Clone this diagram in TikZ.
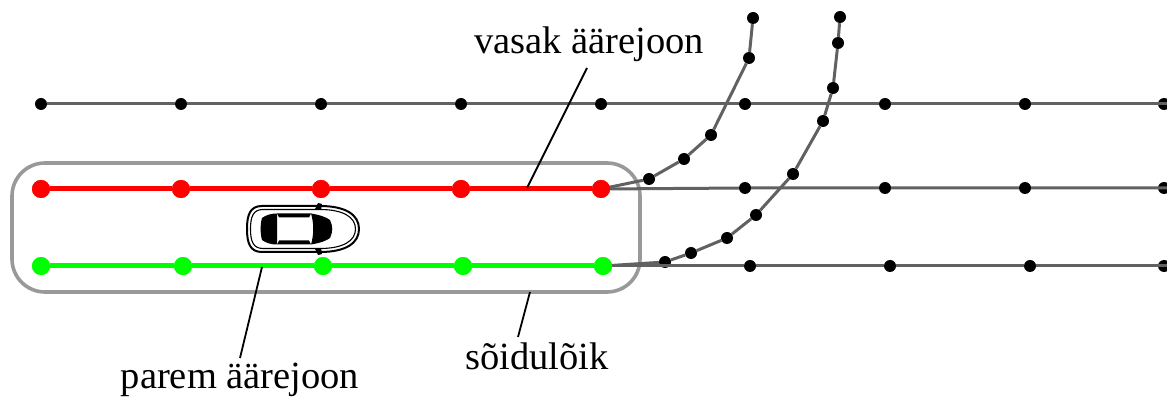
\documentclass[tikz,border=0pt]{standalone}
\usepackage{fontspec}
\setmainfont{Liberation Serif}
\begin{document}
\begin{tikzpicture}[x=1pt,y=-1pt,
  road/.style={draw=black!62,line width=3pt},
  dot/.style={circle,fill=black,inner sep=0pt,minimum size=12pt},
  rdot/.style={circle,fill=red,inner sep=0pt,minimum size=18pt},
  gdot/.style={circle,fill=green,inner sep=0pt,minimum size=18pt},
  redline/.style={draw=red,line width=5pt},
  greenline/.style={draw=green,line width=5pt},
  frame/.style={draw=black!40,line width=3.6pt,rounded corners=33pt,minimum width=628pt,minimum height=129pt,inner sep=0pt},
  label/.style={font=\fontsize{38.5}{42}\selectfont,inner sep=0pt},
  leader/.style={draw=black,line width=1.8pt}]
\useasboundingbox (0,0) rectangle (1167,403);

% lane frame
\node[frame] (lane) at (326,227.5) {};

% upper straight road line
\foreach \i/\x in {1/41,2/181,3/321,4/461,5/601,6/745,7/885,8/1025,9/1164}
  \node[dot] (t\i) at (\x,104) {};
\coordinate (tend) at (1167,104);
\draw[road] (t1) -- (t2) -- (t3) -- (t4) -- (t5) -- (t6) -- (t7) -- (t8) -- (tend);

% middle road continuation
\foreach \i/\x in {6/745,7/885,8/1025,9/1164}
  \node[dot] (m\i) at (\x,188) {};
\coordinate (mend) at (1167,188);

% lower road continuation
\foreach \i/\x in {6/750,7/890,8/1030,9/1164}
  \node[dot] (b\i) at (\x,266) {};
\coordinate (bend) at (1167,266);

% curved branch from the left boundary
\node[dot] (p1) at (649,179) {};
\node[dot] (p2) at (684,159) {};
\node[dot] (p3) at (711,135) {};
\node[dot] (p4) at (749,58) {};
\node[dot] (p5) at (753,18) {};

% curved branch from the right boundary
\node[dot] (q1) at (665,262) {};
\node[dot] (q2) at (691,253) {};
\node[dot] (q3) at (727,238) {};
\node[dot] (q4) at (756,215) {};
\node[dot] (q5) at (793,174) {};
\node[dot] (q6) at (823,121) {};
\node[dot] (q7) at (833,88) {};
\node[dot] (q8) at (838,43) {};
\node[dot] (q9) at (840,17) {};

% left boundary (red) and right boundary (green)
\foreach \i/\x in {1/41,2/181,3/321,4/461,5/601}
  \node[rdot] (r\i) at (\x,189) {};
\foreach \i/\x in {1/41,2/183,3/323,4/463,5/603}
  \node[gdot] (g\i) at (\x,266) {};

\draw[road] (r5.center) -- (m6) -- (m7) -- (m8) -- (mend);
\draw[road] (g5.center) -- (b6) -- (b7) -- (b8) -- (bend);
\draw[road] (r5.center) -- (p1) -- (p2) -- (p3) -- (p4) -- (p5);
\draw[road] (g5.center) -- (q1) -- (q2) -- (q3) -- (q4) -- (q5) -- (q6) -- (q7) -- (q8) -- (q9);

\draw[redline] (r1) -- (r2) -- (r3) -- (r4) -- (r5);
\draw[greenline] (g1) -- (g2) -- (g3) -- (g4) -- (g5);
\foreach \i in {1,...,5} {\node[rdot] at (r\i) {}; \node[gdot] at (g\i) {};}

% car seen from above
\begin{scope}
  \draw[fill=white,line width=2pt] (262,206) -- (320,206)
    .. controls (346,206) and (359,215) .. (359,229)
    .. controls (359,243) and (346,252) .. (320,252) -- (262,252)
    .. controls (250,252) and (247,243) .. (247,229)
    .. controls (247,215) and (250,206) .. (262,206) -- cycle;
  \draw[line width=1.1pt] (263,209.5) -- (320,209.5)
    .. controls (343,209.5) and (355.5,217) .. (355.5,229)
    .. controls (355.5,241) and (343,248.5) .. (320,248.5) -- (263,248.5)
    .. controls (253,248.5) and (250.5,241) .. (250.5,229)
    .. controls (250.5,217) and (253,209.5) .. (263,209.5) -- cycle;
  % mirrors
  \fill (315,209) -- (318,203) -- (322,204) -- (321,210) -- cycle;
  \fill (315,249) -- (318,255) -- (322,254) -- (321,248) -- cycle;
  % rear window
  \fill (262,218) .. controls (266,215) and (271,213.5) .. (277,213.5) -- (277,244.5)
    .. controls (271,244.5) and (266,243) .. (262,240) .. controls (260,232) and (260,226) .. (262,218) -- cycle;
  % windshield
  \fill (311,213.5) .. controls (320,215) and (326,217) .. (330,220)
    .. controls (333,227) and (333,231) .. (330,238)
    .. controls (326,241) and (320,243) .. (311,244.5)
    .. controls (314,234) and (314,224) .. (311,213.5) -- cycle;
  % side windows
  \fill (277,213.5) -- (311,213.5) -- (309,217.5) -- (279,217.5) -- cycle;
  \fill (277,244.5) -- (311,244.5) -- (309,240.5) -- (279,240.5) -- cycle;
\end{scope}

% labels with leader lines
\node[label] (vasak) at (589,44) {vasak äärejoon};
\node[label] (parem) at (240,380) {parem äärejoon};
\node[label] (soidu) at (537,356) {sõidulõik};
\coordinate (vasakpt) at (527,188);
\coordinate (parempt) at (262,267);
\coordinate (soidupt) at (530,292);
\draw[leader] (587,68) -- (vasakpt);
\draw[leader] (240,358) -- (parempt);
\draw[leader] (518,337) -- (soidupt);
\end{tikzpicture}
\end{document}
